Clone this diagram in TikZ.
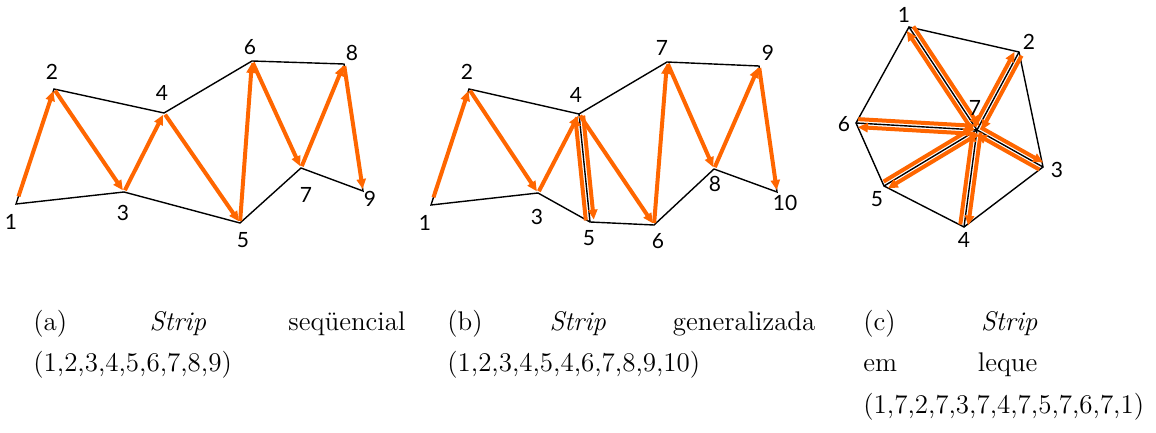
\documentclass[tikz,border=0pt]{standalone}
\usepackage{fontspec}
\newfontfamily\labelfont{Lato}
\usetikzlibrary{arrows.meta,calc}
\definecolor{striporange}{RGB}{255,102,0}
% arrow of the fan strip, pushed to its own left side of the spoke
\newcommand{\fanarrow}[2]{\draw[arr] ($(#1)!2pt!90:(#2)$) -- ($(#2)!2pt!-90:(#1)$);}

\begin{document}
\begin{tikzpicture}[x=0.5pt, y=-0.5pt,
  edge/.style={black, line width=0.7pt},
  arr/.style={-{Triangle[length=5pt,width=4.5pt]}, line width=2pt, striporange, shorten >=1pt, shorten <=1pt},
  vlabel/.style={font=\labelfont\fontsize{10.5}{12}\selectfont, inner sep=0pt},
  caption/.style={font=\fontsize{13.5}{16}\selectfont, inner sep=0pt, anchor=base west}
]
  \useasboundingbox (0,0) rectangle (1156,433);

  % (a) sequential strip
  \coordinate (a1) at (16,204);
  \coordinate (a2) at (54,89);
  \coordinate (a3) at (124,192);
  \coordinate (a4) at (164,113);
  \coordinate (a5) at (240,223);
  \coordinate (a6) at (252,61);
  \coordinate (a7) at (301,168);
  \coordinate (a8) at (344,64);
  \coordinate (a9) at (363,191);
  \draw[edge] (a1) -- (a2) -- (a4) -- (a6) -- (a8) -- (a9) -- (a7) -- (a5) -- (a3) -- cycle;
  \draw[arr, shorten <=4pt] (a1) -- (a2);
  \foreach \i/\j in {2/3,3/4,4/5,5/6,6/7,7/8,8/9}
    \draw[arr] (a\i) -- (a\j);
  \foreach \n/\x/\y in {1/11/222,2/52/72,3/123/213,4/162/93,5/243/240,6/250/47,7/306/195,8/352/53,9/370/199}
    \node[vlabel] (la\n) at (\x,\y) {\n};

  % (b) generalized strip
  \coordinate (b1) at (431,205);
  \coordinate (b2) at (469,89);
  \coordinate (b3) at (538,193);
  \coordinate (b4) at (579,114);
  \coordinate (b5) at (590,222);
  \coordinate (b6) at (654,225);
  \coordinate (b7) at (667,62);
  \coordinate (b8) at (714,169);
  \coordinate (b9) at (759,66);
  \coordinate (b10) at (777,192);
  \draw[edge] (b1) -- (b2) -- (b4) -- (b7) -- (b9) -- (b10) -- (b8) -- (b6) -- (b5) -- (b3) -- cycle;
  \draw[edge] (b4) -- (b5);
  \draw[arr, shorten <=4pt] (b1) -- (b2);
  \foreach \i/\j in {2/3,3/4,4/6,6/7,7/8,8/9,9/10}
    \draw[arr] (b\i) -- (b\j);
  \fanarrow{b4}{b5}
  \fanarrow{b5}{b4}
  \foreach \n/\x/\y in {1/425/223,2/467/72,3/537/217,4/576/95,5/589/238,6/658/241,7/662/48,8/715/184,9/768/53,10/785/203}
    \node[vlabel] (lb\n) at (\x,\y) {\n};

  % (c) fan strip
  \coordinate (c1) at (909,27);
  \coordinate (c2) at (1019,52);
  \coordinate (c3) at (1043,167);
  \coordinate (c4) at (964,227);
  \coordinate (c5) at (884,186);
  \coordinate (c6) at (856,123);
  \coordinate (c7) at (977,130);
  \draw[edge] (c1) -- (c2) -- (c3) -- (c4) -- (c5) -- (c6) -- cycle;
  \foreach \k in {1,...,6}
    \draw[edge] (c7) -- (c\k);
  \foreach \k in {1,...,6} {
    \fanarrow{c\k}{c7}
    \fanarrow{c7}{c\k}
  }
  \foreach \n/\x/\y in {1/904/15,2/1029/42,3/1057/170,4/964/240,5/877/199,6/844/124,7/975/108}
    \node[vlabel] (lc\n) at (\x,\y) {\n};

  % captions
  \node[caption] (capa1) at (33,330) {\makebox[186pt][s]{(a) \emph{Strip} seqüencial}};
  \node[caption] (capa2) at (33,371) {(1,2,3,4,5,6,7,8,9)};
  \node[caption] (capb1) at (447,330) {\makebox[184pt][s]{(b) \emph{Strip} generalizada}};
  \node[caption] (capb2) at (447,371) {(1,2,3,4,5,4,6,7,8,9,10)};
  \node[caption] (capc1) at (863,330) {\makebox[87pt][s]{(c) \emph{Strip}}};
  \node[caption] (capc2) at (863,371) {\makebox[87pt][s]{em leque}};
  \node[caption] (capc3) at (863,413) {(1,7,2,7,3,7,4,7,5,7,6,7,1)};
\end{tikzpicture}
\end{document}
